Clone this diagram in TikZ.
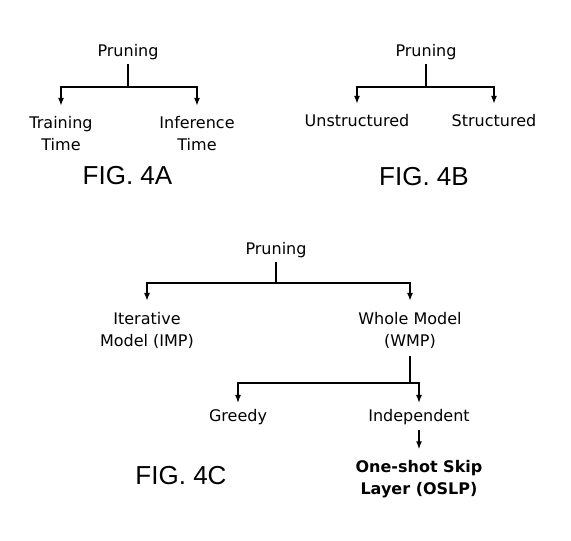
\documentclass[tikz,border=0pt]{standalone}
\usepackage{fontspec}
\setmainfont{DejaVu Sans}
\newfontfamily\figfont{Liberation Sans}
\usetikzlibrary{arrows.meta}

\begin{document}
\begin{tikzpicture}[
  x=0.75pt, y=-0.75pt,
  lbl/.style={
    align=center, inner sep=3pt,
    font=\fontsize{12}{16.5}\selectfont},
  oslp/.style={
    align=center, inner sep=3pt,
    font=\fontsize{12}{16.5}\selectfont\bfseries},
  figlbl/.style={inner sep=0pt, font=\figfont\fontsize{19.5}{23}\selectfont},
  line/.style={line width=1.1pt},
  arr/.style={-{Latex[length=6pt,width=4.5pt]}, line width=1.1pt, shorten >=5pt},
]
  \useasboundingbox (0,0) rectangle (571,541);

  % FIG. 4A
  \node[lbl] (pa) at (128,52)  {Pruning};
  \node[lbl] (ta) at (61,134)  {Training\\Time};
  \node[lbl] (ia) at (197,134) {Inference\\Time};
  \coordinate (ja) at (128,87);
  \draw[line] (pa) -- (ja);
  \draw[arr] (ja) -| (ta); \draw[arr] (ja) -| (ia);
  \node[figlbl] (fa) at (127.5,176) {FIG. 4A};

  % FIG. 4B
  \node[lbl] (pb) at (426,52)  {Pruning};
  \node[lbl] (ub) at (357,121) {Unstructured};
  \node[lbl] (sb) at (494,121) {Structured};
  \coordinate (jb) at (426,87);
  \draw[line] (pb) -- (jb);
  \draw[arr] (jb) -| (ub); \draw[arr] (jb) -| (sb);
  \node[figlbl] (fb) at (424,177) {FIG. 4B};

  % FIG. 4C
  \node[lbl] (pc) at (276,250)   {Pruning};
  \node[lbl] (ic) at (147,330)   {Iterative\\Model (IMP)};
  \node[lbl] (wc) at (410,330)   {Whole Model\\(WMP)};
  \node[lbl] (gc) at (238,417)   {Greedy};
  \node[lbl] (dc) at (419,417)   {Independent};
  \node[oslp] (oc) at (419,479) {One-shot Skip\\Layer (OSLP)};
  \coordinate (jc) at (276,283);
  \coordinate (kc) at (410,383);
  \draw[line] (pc) -- (jc);
  \draw[arr] (jc) -| (ic); \draw[arr] (jc) -| (wc);
  \draw[line, shorten <=3pt] (wc) -- (kc);
  \draw[arr, shorten >=1.5pt] (kc) -| (gc); \draw[arr, shorten >=1.5pt] (kc) -| (dc);
  \draw[arr, shorten <=1pt] (dc) -- (oc);
  \node[figlbl] (fc) at (181,476) {FIG. 4C};
\end{tikzpicture}
\end{document}
